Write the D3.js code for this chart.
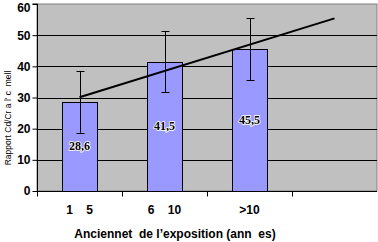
<!DOCTYPE html>
<html><head><meta charset="utf-8">
<script src="https://cdn.jsdelivr.net/npm/d3@7"></script>
<style>html,body{margin:0;padding:0;background:#fff;}svg{display:block;}</style>
</head><body>
<svg id="c" width="378" height="242"></svg>
<script>
const categories = ["1    5", "6    10", ">10", ""];
const values = [28.6, 41.5, 45.5];
const valueLabels = ["28,6", "41,5", "45,5"];
const errLow = [18.7, 31.7, 35.6];
const errHigh = [38.4, 51.3, 55.4];
const trendCats = ["1    5", ""];
const trendValues = [30.1, 55.4];
const yTicks = [0, 10, 20, 30, 40, 50, 60];
const yTitle = "Rapport Cd/Cr a l' c  mell";
const xTitle = "Anciennet  de l\u2019exposition (ann  es)";

const svg = d3.select("#c");
const L = 37, R = 377, T = 4, B = 191;
const x = d3.scaleBand().domain(categories).range([L, R]).paddingInner(0.588).paddingOuter(0.294);
const y = d3.scaleLinear().domain([0, 60]).range([B, T]);
const cx = c => x(c) + x.bandwidth() / 2;

// plot area
svg.append("rect").attr("x", L).attr("y", T).attr("width", R - L).attr("height", B - T)
  .attr("fill", "#c0c0c0").attr("stroke", "#808080").attr("stroke-width", 1);

// gridlines
svg.append("g").selectAll("line").data(yTicks.filter(v => v > 0 && v < 60)).join("line")
  .attr("x1", L).attr("x2", R).attr("y1", d => Math.round(y(d)) + 0.5).attr("y2", d => Math.round(y(d)) + 0.5)
  .attr("stroke", "#000").attr("stroke-width", 1);

// bars
svg.append("g").selectAll("rect").data(values).join("rect")
  .attr("x", (d, i) => Math.round(x(categories[i])) + 0.5)
  .attr("y", d => Math.round(y(d)) + 0.5)
  .attr("width", Math.round(x.bandwidth()))
  .attr("height", d => B - Math.round(y(d)))
  .attr("fill", "#9999ff").attr("stroke", "#000").attr("stroke-width", 1);

// y axis
const yAxis = d3.axisLeft(y).tickValues(yTicks).tickSize(5).tickPadding(2);
const gy = svg.append("g").attr("transform", `translate(${L + 0.5},0)`).call(yAxis);
gy.select(".domain").attr("stroke", "#000").attr("d", `M-5,${T}H0V${B}`);
gy.selectAll(".tick line").attr("stroke", "#000");
gy.selectAll(".tick text").attr("font-family", "Liberation Sans, Arial, sans-serif")
  .attr("font-weight", "bold").attr("font-size", 12).attr("fill", "#000").attr("x", -7)
  .attr("dy", d => d === 60 ? "0.6em" : "0.32em");

// x axis
const gx = svg.append("g").attr("transform", `translate(0,${B + 0.5})`);
gx.append("line").attr("x1", L).attr("x2", R).attr("stroke", "#000");
const bounds = categories.map(c => x(c) - x.step() * 0.294);
gx.selectAll("line.t").data(bounds).join("line").attr("class", "t")
  .attr("x1", d => Math.round(d) + 0.5).attr("x2", d => Math.round(d) + 0.5).attr("y1", 0).attr("y2", 5).attr("stroke", "#000");
gx.selectAll("text").data(categories).join("text")
  .attr("x", d => cx(d)).attr("y", 22).attr("text-anchor", "middle")
  .style("white-space", "pre")
  .attr("font-family", "Liberation Sans, Arial, sans-serif").attr("font-weight", "bold").attr("font-size", 12)
  .text(d => d);

// trend line
const line = d3.line().x((d, i) => cx(trendCats[i])).y(d => y(d));
svg.append("path").datum(trendValues).attr("d", line).attr("fill", "none").attr("stroke", "#000").attr("stroke-width", 2);

// error bars
const eg = svg.append("g").attr("stroke", "#000").attr("stroke-width", 1);
values.forEach((v, i) => {
  const xc = Math.round(cx(categories[i])) + 0.5;
  eg.append("line").attr("x1", xc).attr("x2", xc).attr("y1", y(errLow[i])).attr("y2", y(errHigh[i]));
  eg.append("line").attr("x1", xc - 4).attr("x2", xc + 4).attr("y1", Math.round(y(errLow[i])) + 0.5).attr("y2", Math.round(y(errLow[i])) + 0.5);
  eg.append("line").attr("x1", xc - 4).attr("x2", xc + 4).attr("y1", Math.round(y(errHigh[i])) + 0.5).attr("y2", Math.round(y(errHigh[i])) + 0.5);
});

// value labels
svg.append("g").selectAll("text").data(values).join("text")
  .attr("x", (d, i) => cx(categories[i])).attr("y", d => (y(d) + B) / 2 + 1)
  .attr("text-anchor", "middle").attr("dominant-baseline", "middle")
  .attr("font-family", "Liberation Serif, Times New Roman, serif").attr("font-weight", "bold").attr("font-size", 12)
  .attr("fill", "#000").attr("stroke", "#fff").attr("stroke-width", 1.6).attr("paint-order", "stroke")
  .text((d, i) => valueLabels[i]);

// titles
svg.append("text").attr("transform", "translate(11,118) rotate(-90)").attr("text-anchor", "middle")
  .style("white-space", "pre")
  .attr("font-family", "Liberation Sans, Arial, sans-serif").attr("font-size", 8.5).attr("fill", "#000")
  .text(yTitle);
svg.append("text").attr("x", 175).attr("y", 238).attr("text-anchor", "middle")
  .style("white-space", "pre")
  .attr("font-family", "Liberation Sans, Arial, sans-serif").attr("font-weight", "bold").attr("font-size", 12)
  .text(xTitle);
</script>
</body></html>
